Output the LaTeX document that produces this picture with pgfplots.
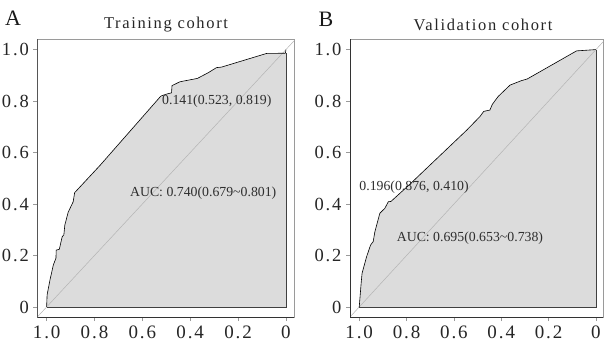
\documentclass[border=0pt]{standalone}
\usepackage{pgfplots}
\pgfplotsset{compat=1.18}
\usepackage{pgfplotstable}
\usepackage{fontspec}
\setmainfont{Liberation Serif}
\newfontfamily\tickfont[LetterSpace=10]{Liberation Serif}
\newfontfamily\titlefont[LetterSpace=10]{Liberation Serif}
\definecolor{fillgray}{HTML}{DCDCDC}
\definecolor{diaggray}{HTML}{B4B4B4}
\definecolor{boxgray}{HTML}{9A9A9A}
\definecolor{txtgray}{HTML}{2E2E2E}

\pgfplotstableread{
x y
1.000 0.000
0.998 0.047
0.986 0.105
0.972 0.163
0.961 0.190
0.960 0.221
0.947 0.224
0.935 0.273
0.928 0.280
0.924 0.318
0.910 0.368
0.889 0.409
0.883 0.444
0.777 0.550
0.523 0.819
0.503 0.826
0.478 0.832
0.476 0.860
0.443 0.875
0.370 0.888
0.325 0.910
0.290 0.930
0.269 0.932
0.081 0.985
0.002 0.986
0.000 1.000
}\curveA

\pgfplotstableread{
x y
1.000 0.000
0.992 0.092
0.988 0.131
0.969 0.195
0.952 0.241
0.941 0.254
0.934 0.292
0.913 0.364
0.892 0.383
0.877 0.409
0.866 0.410
0.786 0.477
0.546 0.687
0.490 0.740
0.474 0.760
0.448 0.765
0.438 0.787
0.413 0.818
0.363 0.862
0.316 0.879
0.290 0.886
0.082 0.995
0.000 1.000
}\curveB

\pgfplotsset{
  rocstyle/.style={
    scale only axis,
    anchor=south west,
    x dir=reverse,
    ymin=-0.039, ymax=1.040,
    xtick={0,0.2,0.4,0.6,0.8,1},
    xticklabels={0,0.2,0.4,0.6,0.8,1.0},
    ytick={0,0.2,0.4,0.6,0.8,1},
    yticklabels={0,0.2,0.4,0.6,0.8,1.0},
    tick align=outside,
    major tick length=4pt,
    tick style={boxgray, line width=0.5pt},
    xtick pos=bottom, ytick pos=left,
    axis line style={boxgray, line width=0.6pt},
    /pgf/number format/assume math mode=true,
    yticklabel style={font=\tickfont\fontsize{18.5}{20}\selectfont, text=black!85, xshift=-1pt},
    xticklabel style={font=\tickfont\fontsize{19}{21}\selectfont, text=black!85, inner sep=0pt, text depth=0pt, anchor=north, yshift=-5pt},
    clip=true,
  }
}

\begin{document}
\begin{tikzpicture}
% Panel A
\begin{axis}[rocstyle, at={(37.3pt,26pt)}, width=257pt, height=277.7pt,
  xmin=-0.035, xmax=1.039]
  \addplot[fill=fillgray, draw=none] table[x=x,y=y] {\curveA} \closedcycle;
  \addplot[diaggray, line width=0.5pt] coordinates {(1.06,-0.06) (-0.06,1.06)};
  \addplot[black!75, line width=0.6pt] coordinates {(1,0) (0,0) (0,0.986)};
  \addplot[black, line width=0.6pt] table[x=x,y=y] {\curveA};
  \node[anchor=west, inner sep=0pt, text=txtgray, font=\fontsize{13.8}{15}\selectfont] at (axis cs:0.518,0.800) {0.141(0.523, 0.819)};
  \node[anchor=west, inner sep=0pt, text=txtgray, font=\fontsize{13.8}{15}\selectfont] at (axis cs:0.652,0.444) {AUC: 0.740(0.679\textasciitilde 0.801)};
  \draw[black!80, line width=0.7pt] (rel axis cs:0,1) -- (rel axis cs:0,0) -- (rel axis cs:1,0);
\end{axis}
% Panel B
\begin{axis}[rocstyle, at={(350pt,26pt)}, width=253.3pt, height=277.7pt,
  xmin=-0.031, xmax=1.039]
  \addplot[fill=fillgray, draw=none] table[x=x,y=y] {\curveB} \closedcycle;
  \addplot[diaggray, line width=0.5pt] coordinates {(1.06,-0.06) (-0.06,1.06)};
  \addplot[black!75, line width=0.6pt] coordinates {(1,0) (0,0) (0,1)};
  \addplot[black, line width=0.6pt] table[x=x,y=y] {\curveB};
  \node[anchor=west, inner sep=0pt, text=txtgray, font=\fontsize{13.8}{15}\selectfont] at (axis cs:1.0,0.467) {0.196(0.876, 0.410)};
  \node[anchor=west, inner sep=0pt, text=txtgray, font=\fontsize{13.8}{15}\selectfont] at (axis cs:0.842,0.267) {AUC: 0.695(0.653\textasciitilde 0.738)};
  \draw[black!80, line width=0.7pt] (rel axis cs:0,1) -- (rel axis cs:0,0) -- (rel axis cs:1,0);
\end{axis}
% titles and panel letters
\node[font=\titlefont\fontsize{16.5}{18}\selectfont, text=black!85] at (166pt,318pt) {Training cohort};
\node[font=\titlefont\fontsize{16.5}{18}\selectfont, text=black!85] at (483pt,318pt) {Validation cohort};
\node[font=\fontsize{22}{24}\selectfont, text=black!90] at (13pt,324.5pt) {A};
\node[font=\fontsize{22}{24}\selectfont, text=black!90] at (326pt,324pt) {B};
\pgfresetboundingbox
\useasboundingbox (0,0) rectangle (607pt,343pt);
\end{tikzpicture}
\end{document}
